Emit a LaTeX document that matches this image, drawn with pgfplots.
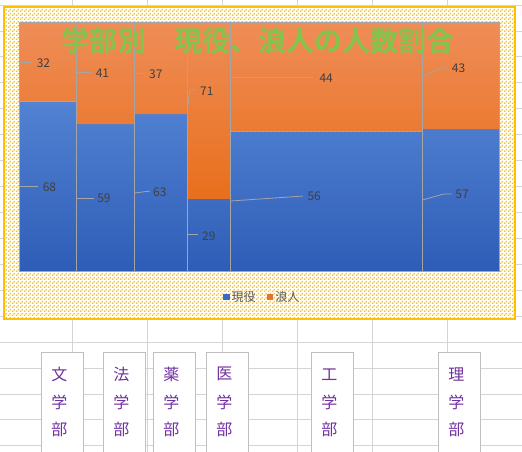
\documentclass[border=0pt]{standalone}
\usepackage{fontspec}
\setmainfont{Noto Sans CJK JP}[BoldFont={Noto Sans CJK JP Bold}]
\usepackage{pgfplots}
\pgfplotsset{compat=1.18}
\usetikzlibrary{patterns}

\definecolor{bluetop}{HTML}{5282D2}
\definecolor{bluebot}{HTML}{2E5DB7}
\definecolor{orangetop}{HTML}{EF8D58}
\definecolor{orangebot}{HTML}{E86F1C}
\definecolor{sepgray}{HTML}{A5A5A5}
\definecolor{cellgrid}{HTML}{D4D4D4}
\definecolor{chartgold}{HTML}{FFC000}
\definecolor{titlegreen}{HTML}{84C44C}
\definecolor{labelgray}{HTML}{404040}
\definecolor{legendgray}{HTML}{595959}
\definecolor{boxgray}{HTML}{BFBFBF}
\definecolor{boxpurple}{HTML}{7030A0}

\pgfdeclarepatternformonly{golddots}{\pgfqpoint{0bp}{0bp}}{\pgfqpoint{4bp}{4bp}}{\pgfqpoint{4bp}{4bp}}{
  \pgfpathrectangle{\pgfqpoint{0bp}{0bp}}{\pgfqpoint{1.6bp}{1.6bp}}
  \pgfpathrectangle{\pgfqpoint{2bp}{2bp}}{\pgfqpoint{1.6bp}{1.6bp}}
  \pgfusepath{fill}
}

% label positions (x = cumulative width, y = percent)
\pgfplotstableread{
x     y     label
24    83.5  32
83    79.5  41
136.5 79.1  37
187.5 72.3  71
307   77.5  44
439.5 81.5  43
30    33.7  68
84.5  29.3  59
140.5 31.7  63
189.5 14.1  29
295   30.1  56
443   30.9  57
}\labels

\begin{document}
\begin{tikzpicture}[x=1bp,y=1bp]
\useasboundingbox (0,0) rectangle (522,452);
\clip (0,0) rectangle (522,452);
\fill[white] (0,0) rectangle (522,452);
% sheet cells
\foreach \k in {0,...,17}
  \draw[cellgrid, line width=0.8bp] (0,{447-25.93*\k}) -- (522,{447-25.93*\k});
\foreach \x in {72,147,222,297,372,447}
  \draw[cellgrid, line width=0.8bp] (\x,0) -- (\x,452);
% chart area
\fill[white] (4,133) rectangle (515,445);
\fill[pattern=golddots, pattern color=chartgold] (4,133) rectangle (515,445);
\draw[chartgold, line width=1.5bp] (4,133) rectangle (515,445);

\begin{axis}[
  at={(19.5bp,181bp)}, anchor=south west, scale only axis,
  width=479.5bp, height=249bp,
  xmin=0, xmax=480, ymin=0, ymax=100,
  axis line style={draw=sepgray, line width=0.8bp},
  xtick={57.2,115,168.2,211.2,403.2}, ytick=\empty,
  xticklabels={}, tick style={draw=none},
  xmajorgrids, major grid style={draw=sepgray, line width=0.8bp},
  axis on top, clip=false,
  legend style={at={(0.506,-0.104)}, anchor=center, draw=none, fill=none,
    legend columns=2, font=\fontsize{12bp}{12bp}\selectfont, text=legendgray,
    /tikz/every even column/.append style={column sep=9bp}},
  legend image code/.code={\fill[#1] (0bp,-3.3bp) rectangle (6.7bp,3.3bp);},
  leader/.style={draw=sepgray, line width=0.8bp, forget plot},
]
\addplot[draw=none, top color=bluetop, bottom color=bluebot, forget plot]
  coordinates {(0,0) (0,68) (57.2,68) (57.2,59) (115,59) (115,63) (168.2,63)
  (168.2,29) (211.2,29) (211.2,56) (403.2,56) (403.2,57) (480,57) (480,0)} -- cycle;
\addplot[draw=none, top color=orangetop, bottom color=orangebot, forget plot]
  coordinates {(0,100) (0,68) (57.2,68) (57.2,59) (115,59) (115,63) (168.2,63)
  (168.2,29) (211.2,29) (211.2,56) (403.2,56) (403.2,57) (480,57) (480,100)} -- cycle;

% leader lines
\addplot[leader] coordinates {(0,83.9) (12.5,83.9)};
\addplot[leader] coordinates {(57.2,79.9) (71.5,79.9)};
\addplot[leader] coordinates {(114.8,79.5) (125.5,79.5)};
\addplot[leader] coordinates {(168.2,64.7) (170.5,72.7) (177.5,72.7)};
\addplot[leader] coordinates {(211.2,77.9) (294.5,77.9)};
\addplot[leader] coordinates {(403.2,77.9) (421.5,81.5) (428.5,81.5)};
\addplot[leader] coordinates {(0,34.1) (18.5,34.1)};
\addplot[leader] coordinates {(57.2,29.3) (74.5,29.3)};
\addplot[leader] coordinates {(114.8,31.3) (130.5,32.1)};
\addplot[leader] coordinates {(168.2,14.5) (178.5,14.5)};
\addplot[leader] coordinates {(211.2,28.1) (283.5,30.1)};
\addplot[leader] coordinates {(403.2,28.5) (424.5,30.9) (432.5,30.9)};

\addplot[draw=none, mark=none, forget plot, point meta=explicit symbolic,
  nodes near coords,
  every node near coord/.append style={anchor=center, inner sep=0pt,
    font=\fontsize{12bp}{12bp}\selectfont, text=labelgray}]
  table[x=x, y=y, meta=label] {\labels};

\addlegendimage{fill=bluebot!65!bluetop, draw=none}
\addlegendentry{現役}
\addlegendimage{fill=orangebot!85!orangetop, draw=none}
\addlegendentry{浪人}
\end{axis}

\node[font=\bfseries\fontsize{28bp}{28bp}\selectfont, text=titlegreen, inner sep=0pt]
  at (258,411) {学部別　現役、浪人の人数割合};

% text boxes under the chart
\foreach \l/\c in {41.3/文, 103.3/法, 153.3/薬, 206.3/医, 311.3/工, 438.3/理} {
  \draw[boxgray, fill=white, line width=0.8bp] (\l,-10) rectangle ({\l+42},99.7);
  \node[font=\fontsize{16bp}{16bp}\selectfont, text=boxpurple, inner sep=0pt] at ({\l+18},77.7) {\c};
  \node[font=\fontsize{16bp}{16bp}\selectfont, text=boxpurple, inner sep=0pt] at ({\l+18},49.3) {学};
  \node[font=\fontsize{16bp}{16bp}\selectfont, text=boxpurple, inner sep=0pt] at ({\l+18},23) {部};
}
\end{tikzpicture}
\end{document}
